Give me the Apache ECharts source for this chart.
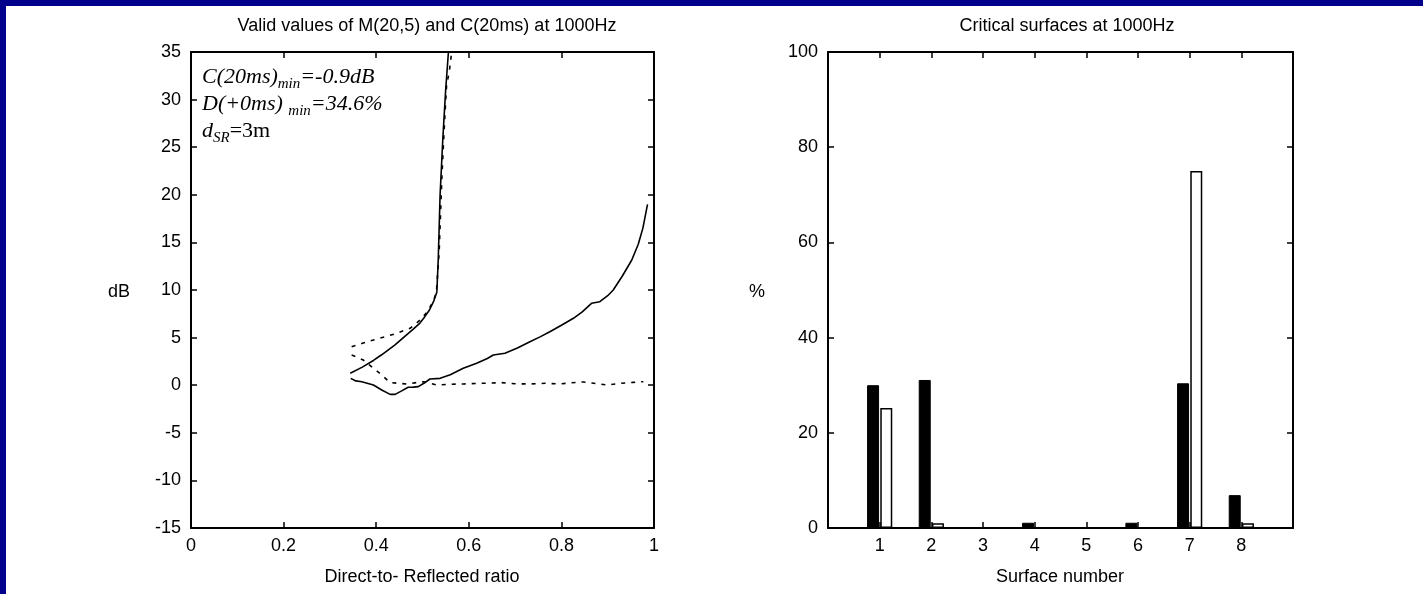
<!DOCTYPE html>
<html>
<head>
<meta charset="utf-8">
<script src="https://cdn.jsdelivr.net/npm/echarts@6/dist/echarts.min.js"></script>
<style>
  html, body { margin: 0; padding: 0; background: #fff; }
  #chart { width: 1423px; height: 594px; }
</style>
</head>
<body>
<div id="chart"></div>
<script>
// ---- Left panel data: [Direct-to-Reflected ratio, dB] ----
const solidUpper = [
  [0.344, 1.25], [0.370, 1.9], [0.394, 2.6], [0.411, 3.17], [0.440, 4.2], [0.465, 5.27],
  [0.480, 5.9], [0.494, 6.5], [0.505, 7.2], [0.515, 7.9], [0.524, 8.8], [0.531, 9.8],
  [0.534, 13.2], [0.538, 20], [0.544, 26], [0.550, 31], [0.556, 35]
];
const dottedUpper = [
  [0.347, 4.04], [0.370, 4.4], [0.394, 4.75], [0.420, 5.1], [0.444, 5.45], [0.473, 5.97],
  [0.495, 6.85], [0.510, 7.7], [0.523, 8.77], [0.530, 9.8], [0.536, 14], [0.542, 22],
  [0.548, 28], [0.552, 31.5], [0.558, 33], [0.563, 35]
];
const solidLower = [
  [0.345, 0.72], [0.356, 0.45], [0.369, 0.37], [0.394, 0.02], [0.412, -0.5], [0.430, -0.96],
  [0.441, -0.96], [0.455, -0.6], [0.469, -0.22], [0.480, -0.2], [0.491, -0.15], [0.503, 0.2],
  [0.516, 0.65], [0.538, 0.72], [0.560, 1.1], [0.588, 1.78], [0.617, 2.3], [0.640, 2.8],
  [0.653, 3.17], [0.678, 3.35], [0.705, 3.9], [0.732, 4.57], [0.755, 5.1], [0.775, 5.62],
  [0.800, 6.3], [0.826, 7.03], [0.845, 7.7], [0.865, 8.6], [0.883, 8.77], [0.900, 9.4],
  [0.912, 10.0], [0.932, 11.5], [0.952, 13.15], [0.966, 14.8], [0.976, 16.5], [0.986, 19]
];
const dottedLower = [
  [0.347, 3.17], [0.372, 2.65], [0.394, 1.78], [0.412, 1.07], [0.430, 0.27], [0.466, 0.13],
  [0.502, 0.37], [0.531, 0.02], [0.560, 0.1], [0.588, 0.13], [0.630, 0.2], [0.671, 0.27],
  [0.700, 0.15], [0.732, 0.13], [0.765, 0.2], [0.797, 0.13], [0.820, 0.25], [0.847, 0.34],
  [0.870, 0.2], [0.898, 0.02], [0.930, 0.2], [0.955, 0.3], [0.977, 0.37]
];
const leftXTicks = { min: 0, max: 1, interval: 0.2 };
const leftYTicks = { min: -15, max: 35, interval: 5 };

// ---- Right panel data: critical surfaces (%) ----
const surfaces = [1, 2, 3, 4, 5, 6, 7, 8];
const blackBars = [30.0, 31.1, 0, 1.1, 0, 1.1, 30.4, 6.9];
const whiteBars = [25.2, 1.0, 0, 0, 0, 0, 75.0, 1.0];
const rightXTicks = { min: 0, max: 9, interval: 1 };
const rightYTicks = { min: 0, max: 100, interval: 20 };

const FONT = 'Liberation Sans';
const SERIF = 'Liberation Serif';

function pairs(xs, ys) { return xs.map((x, i) => [x, ys[i]]); }

const axisLineStyle = { show: true, onZero: false, lineStyle: { color: '#000', width: 2 } };
const tickStyle = { show: true, inside: true, length: 6, lineStyle: { color: '#000', width: 1.5 } };
const labelStyle = { color: '#000', fontFamily: FONT, fontSize: 18 };

function mkX(grid, t, pos, labels, fmt) {
  return {
    type: 'value', gridIndex: grid, position: pos, min: t.min, max: t.max, interval: t.interval,
    axisLine: axisLineStyle, axisTick: tickStyle, splitLine: { show: false },
    axisLabel: labels ? Object.assign({ show: true, margin: 9, formatter: fmt }, labelStyle) : { show: false }
  };
}
function mkY(grid, t, pos, labels) {
  return {
    type: 'value', gridIndex: grid, position: pos, min: t.min, max: t.max, interval: t.interval,
    axisLine: axisLineStyle, axisTick: tickStyle, splitLine: { show: false },
    axisLabel: labels ? Object.assign({ show: true, margin: 10 }, labelStyle) : { show: false }
  };
}

const chart = echarts.init(document.getElementById('chart'));
const lineCommon = { type: 'line', xAxisIndex: 0, yAxisIndex: 0, showSymbol: false, symbol: 'none', silent: true, animation: false };

chart.setOption({
  animation: false,
  backgroundColor: '#fff',
  title: [
    { text: 'Valid values of M(20,5) and C(20ms) at 1000Hz', left: 422, top: 12, textAlign: 'center',
      textStyle: { color: '#000', fontFamily: FONT, fontSize: 18, fontWeight: 'normal' } },
    { text: 'Critical surfaces at 1000Hz', left: 1062, top: 12, textAlign: 'center',
      textStyle: { color: '#000', fontFamily: FONT, fontSize: 18, fontWeight: 'normal' } }
  ],
  grid: [
    { left: 191, top: 52, width: 463, height: 476 },
    { left: 828, top: 52, width: 465, height: 476 }
  ],
  xAxis: [
    mkX(0, leftXTicks, 'bottom', true),
    mkX(0, leftXTicks, 'top', false),
    mkX(1, rightXTicks, 'bottom', true, v => (v >= 1 && v <= 8) ? String(v) : ''),
    mkX(1, rightXTicks, 'top', false)
  ],
  yAxis: [
    mkY(0, leftYTicks, 'left', true),
    mkY(0, leftYTicks, 'right', false),
    mkY(1, rightYTicks, 'left', true),
    mkY(1, rightYTicks, 'right', false)
  ],
  series: [
    Object.assign({}, lineCommon, { name: 'C solid upper', data: solidUpper, lineStyle: { color: '#000', width: 1.6 } }),
    Object.assign({}, lineCommon, { name: 'D dotted upper', data: dottedUpper, lineStyle: { color: '#000', width: 1.6, type: [4, 6] } }),
    Object.assign({}, lineCommon, { name: 'C solid lower', data: solidLower, lineStyle: { color: '#000', width: 1.6 } }),
    Object.assign({}, lineCommon, { name: 'D dotted lower', data: dottedLower, lineStyle: { color: '#000', width: 1.6, type: [4, 6] } }),
    { type: 'bar', name: 'black', xAxisIndex: 2, yAxisIndex: 2, data: pairs(surfaces, blackBars),
      barWidth: 12, barGap: '10%', silent: true,
      itemStyle: { color: '#000', borderColor: '#000', borderWidth: 1 } },
    { type: 'bar', name: 'white', xAxisIndex: 2, yAxisIndex: 2, data: pairs(surfaces, whiteBars),
      barWidth: 12, barGap: '10%', silent: true,
      itemStyle: { color: '#fff', borderColor: '#000', borderWidth: 1.5 } }
  ],
  graphic: [
    { type: 'rect', shape: { x: 0, y: 0, width: 1423, height: 6 }, style: { fill: '#00008B' }, silent: true, z: 100 },
    { type: 'rect', shape: { x: 0, y: 0, width: 6, height: 594 }, style: { fill: '#00008B' }, silent: true, z: 100 },
    { type: 'text', left: 108, top: 283, style: { text: 'dB', fill: '#000', font: '18px "Liberation Sans"' } },
    { type: 'text', left: 749, top: 283, style: { text: '%', fill: '#000', font: '18px "Liberation Sans"' } },
    { type: 'text', x: 422, y: 568, style: { text: 'Direct-to- Reflected ratio', fill: '#000', font: '18px "Liberation Sans"', align: 'center' } },
    { type: 'text', x: 1060, y: 568, style: { text: 'Surface number', fill: '#000', font: '18px "Liberation Sans"', align: 'center' } },
    { type: 'text', x: 202, y: 64, z: 50, style: {
        text: '{i|C(20ms)}{s|min}{i|=-0.9dB}\n{i|D(+0ms) }{s|min}{i|=34.6%}\n{i|d}{s|SR}{r|=3m}',
        fill: '#000',
        rich: {
          i: { fontFamily: SERIF, fontStyle: 'italic', fontSize: 22, lineHeight: 27, fill: '#000' },
          r: { fontFamily: SERIF, fontSize: 22, lineHeight: 27, fill: '#000' },
          s: { fontFamily: SERIF, fontStyle: 'italic', fontSize: 15, lineHeight: 27, padding: [13, 0, 0, 0], fill: '#000' }
        }
      } }
  ]
});
</script>
</body>
</html>
